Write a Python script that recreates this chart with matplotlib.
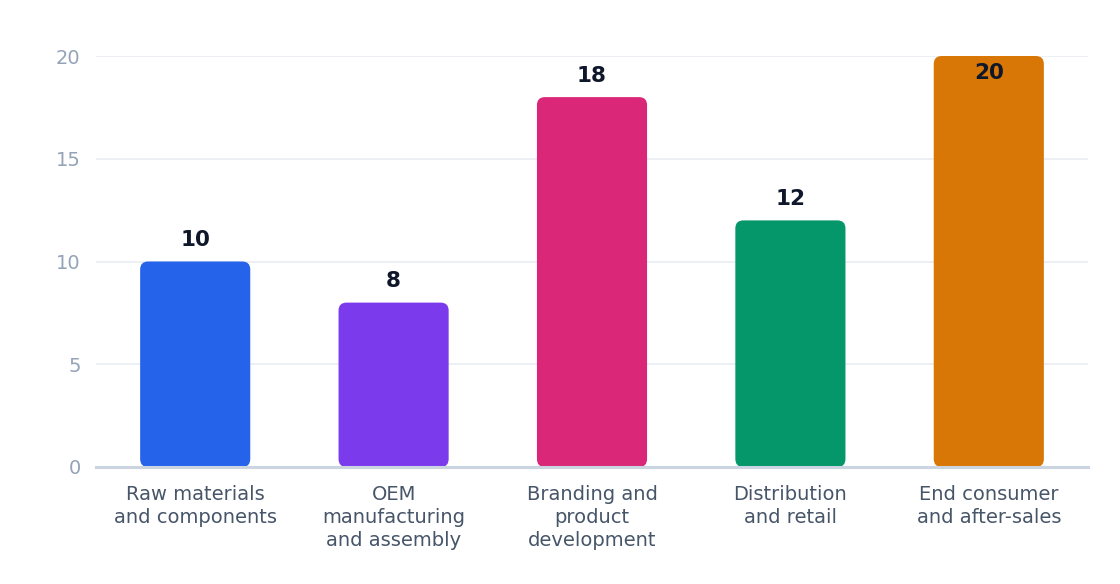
import matplotlib
matplotlib.use('Agg')
import matplotlib.pyplot as plt
from matplotlib.patches import FancyBboxPatch

plt.rcParams['font.family'] = ['DejaVu Sans']

# data
categories = ['Raw materials\nand components', 'OEM\nmanufacturing\nand assembly',
              'Branding and\nproduct\ndevelopment', 'Distribution\nand retail',
              'End consumer\nand after-sales']
values = [10, 8, 18, 12, 20]
colors = ['#2563EB', '#7C3AED', '#DB2777', '#059669', '#D97706']
y_ticks = [0, 5, 10, 15, 20]

fig = plt.figure(figsize=(11.2, 5.84), dpi=100)
ax = fig.add_axes([96 / 1120, 117 / 584, 992 / 1120, 411 / 584])
ax.set_xlim(-0.5, 4.5)
ax.set_ylim(0, 20)

# rounded bars, corner radius in pixels converted to data units
px_x = 992 / 5.0
px_y = 411 / 20.0
r = 8 / px_x
width = 0.555
for i, (v, c) in enumerate(zip(values, colors)):
    p = FancyBboxPatch((i - width / 2, 0), width, v,
                       boxstyle='round,pad=0,rounding_size=%f' % r,
                       mutation_aspect=px_x / px_y,
                       facecolor=c, edgecolor='none', zorder=3)
    ax.add_patch(p)
    if v >= 20:
        ax.annotate(str(v), (i, v), xytext=(0, -5), textcoords='offset points',
                    ha='center', va='top', fontsize=15.5, fontweight='bold',
                    color='#0F172A', zorder=4)
    else:
        ax.annotate(str(v), (i, v), xytext=(0, 8), textcoords='offset points',
                    ha='center', va='bottom', fontsize=15.5, fontweight='bold',
                    color='#0F172A', zorder=4)

ax.set_yticks(y_ticks)
ax.set_xticks(range(len(categories)))
ax.set_xticklabels(categories, fontsize=14, color='#475569', linespacing=1.28)
ax.tick_params(axis='y', labelsize=14, labelcolor='#94A3B8', length=0, pad=11)
ax.tick_params(axis='x', length=0, pad=13)
ax.grid(axis='y', color='#EBEFF4', linewidth=1.3, zorder=0)
for s in ['top', 'right', 'left']:
    ax.spines[s].set_visible(False)
ax.spines['bottom'].set_color('#CBD5E1')
ax.spines['bottom'].set_linewidth(2.2)
ax.spines['bottom'].set_zorder(5)

fig.savefig('out.png', dpi=100)
